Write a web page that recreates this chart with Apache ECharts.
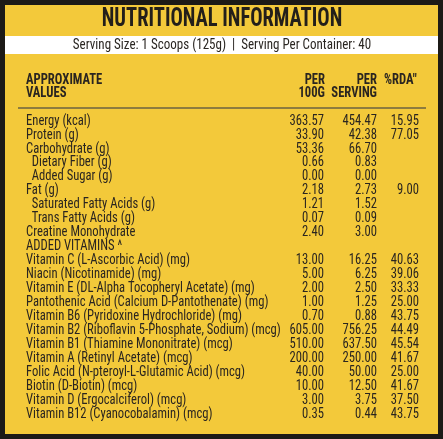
<!DOCTYPE html><html><head><meta charset="utf-8">
<script src="https://cdn.jsdelivr.net/npm/echarts@6/dist/echarts.min.js"></script>
<style>html,body{margin:0;padding:0;background:#1c1a17}#c{width:443px;height:439px}</style></head><body><div id="c"></div>
<script>
const title = "NUTRITIONAL INFORMATION";
const servingText = "Serving Size: 1 Scoops (125g)  |  Serving Per Container: 40";
const headerLabel = ["APPROXIMATE", "VALUES"];
const headerPer100 = ["PER", "100G"];
const headerServing = ["PER", "SERVING"];
const headerRda = ["%RDA\u2033", ""];
const labels = ["Energy (kcal)","Protein (g)","Carbohydrate (g)","  Dietary Fiber (g)","  Added Sugar (g)","Fat (g)","  Saturated Fatty Acids (g)","  Trans Fatty Acids (g)","Creatine Monohydrate","ADDED VITAMINS ^","Vitamin C (L-Ascorbic Acid) (mg)","Niacin (Nicotinamide) (mg)","Vitamin E (DL-Alpha Tocopheryl Acetate) (mg)","Pantothenic Acid (Calcium D-Pantothenate) (mg)","Vitamin B6 (Pyridoxine Hydrochloride) (mg)","Vitamin B2 (Riboflavin 5-Phosphate, Sodium) (mcg)","Vitamin B1 (Thiamine Mononitrate) (mcg)","Vitamin A (Retinyl Acetate) (mcg)","Folic Acid (N-pteroyl-L-Glutamic Acid) (mcg)","Biotin (D-Biotin) (mcg)","Vitamin D (Ergocalciferol) (mcg)","Vitamin B12 (Cyanocobalamin) (mcg)"];
const per100 = ["363.57","33.90","53.36","0.66","0.00","2.18","1.21","0.07","2.40","","13.00","5.00","2.00","1.00","0.70","605.00","510.00","200.00","40.00","10.00","3.00","0.35"];
const perServing = ["454.47","42.38","66.70","0.83","0.00","2.73","1.52","0.09","3.00","","16.25","6.25","2.50","1.25","0.88","756.25","637.50","250.00","50.00","12.50","3.75","0.44"];
const rda = ["15.95","77.05","","","","9.00","","","","","40.63","39.06","33.33","25.00","43.75","44.49","45.54","41.67","25.00","41.67","37.50","43.75"];

const F = '"Liberation Sans Narrow","Roboto Condensed","DejaVu Sans Condensed",sans-serif';
const chart = echarts.init(document.getElementById('c'));
const els = [
 {type:'rect',shape:{x:5,y:5,width:433,height:429},style:{fill:'#f3c93a'}},
 {type:'rect',shape:{x:5,y:36,width:433,height:18},style:{fill:'#ffffff'}},
 {type:'text',x:222,y:20,scaleX:0.82,style:{text:title,font:'bold 25px '+F,fill:'#231f1a',align:'center',verticalAlign:'middle'}},
 {type:'text',x:222,y:45.5,scaleX:0.93,style:{text:servingText,font:'14px '+F,fill:'#2a2622',align:'center',verticalAlign:'middle'}},
 {type:'line',shape:{x1:18,y1:108,x2:426,y2:108},style:{stroke:'#6b6240',lineWidth:1.5}}
];
function txt(x,y,t,align,bold){els.push({type:'text',x:x,y:y,scaleX:0.87,style:{text:t,font:(bold?'bold ':'')+'14.5px '+F,fill:'#2a2520',align:align,verticalAlign:'middle'}});}
[0,1].forEach(i=>{const y=80+i*13.5;txt(26,y,headerLabel[i],'left',true);txt(325,y,headerPer100[i],'right',true);txt(377,y,headerServing[i],'right',true);txt(384,y,headerRda[i],'left',true);});
labels.forEach((l,i)=>{const y=121+i*13.95;txt(26,y,l,'left');txt(324,y,per100[i],'right');txt(377,y,perServing[i],'right');txt(419,y,rda[i],'right');});
chart.setOption({backgroundColor:'#1c1a17',graphic:{elements:els}});
</script></body></html>
